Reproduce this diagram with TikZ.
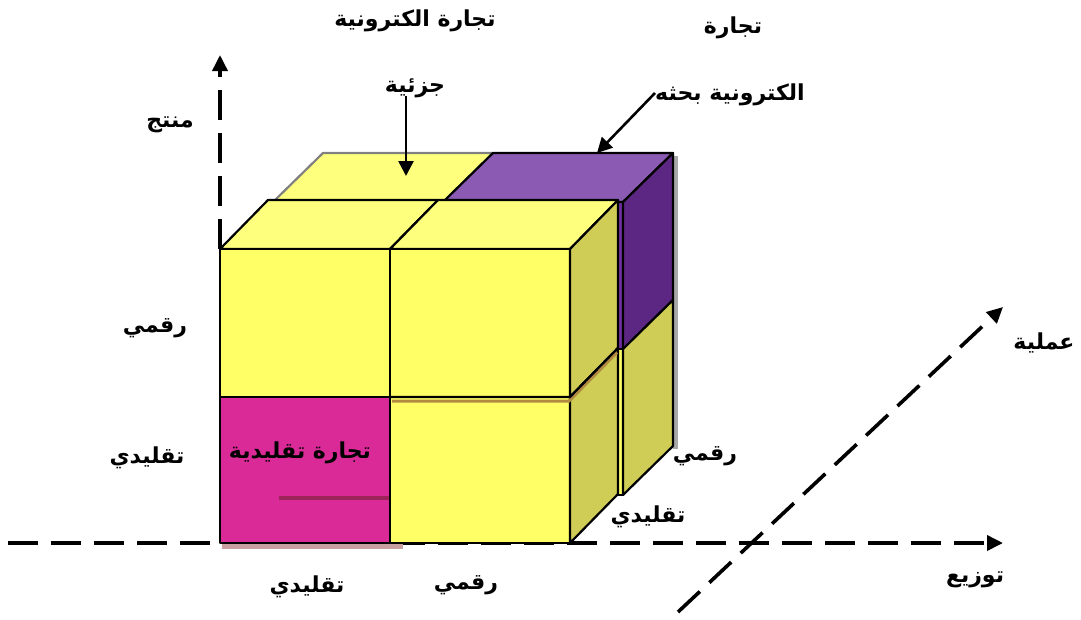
\documentclass[tikz,border=0pt]{standalone}
\usepackage{fontspec}
\newfontfamily\ar[Script=Arabic]{DejaVu Sans}
\TeXXeTstate=1
\usetikzlibrary{arrows.meta}
\definecolor{yfront}{HTML}{FFFF66}
\definecolor{ytop}{HTML}{FFFF7E}
\definecolor{yside}{HTML}{CFCD55}
\definecolor{ptop}{HTML}{8B5AB2}
\definecolor{pside}{HTML}{5C2782}
\definecolor{pfront}{HTML}{7030A0}
\definecolor{mag}{HTML}{DA2A98}
\definecolor{magsh}{HTML}{9C2459}
\definecolor{brsh}{HTML}{B08B40}
\definecolor{pinksh}{HTML}{C8A0A0}
\definecolor{grsh}{HTML}{A8A8A8}
\begin{document}
\begin{tikzpicture}[x=1pt,y=-1pt,
  lab/.style={font=\ar\bfseries\fontsize{22}{26}\selectfont, inner sep=0pt},
  axisline/.style={line width=3.6pt, dash pattern=on 30pt off 13pt, -{Triangle[length=16pt,width=15pt]}},
  ptr/.style={line width=2.6pt, -{Triangle[length=15pt,width=15pt]}},
  face/.style={draw=black, line width=2.2pt, line join=round},
]
\useasboundingbox (0,0) rectangle (1081,619);
% axes
\coordinate (vtop) at (220,55);
\coordinate (vbase) at (220,249);
\coordinate (hl) at (8,543);
\coordinate (hr) at (1003,543);
\coordinate (dl) at (678,612);
\coordinate (dr) at (1003,307);
\draw[axisline] (vbase) -- (vtop);
\draw[axisline] (hl) -- (hr);
\draw[axisline] (dl) -- (dr);
% shadows of back layer
\fill[grsh] (673,156) -- (678,156) -- (678,449) -- (673,449) -- cycle;
\draw[grsh, line width=3pt] (625,353) -- (674,305);
% back layer
\path[face, fill=ytop, draw=gray] (273,202) -- (443,202) -- (493,153) -- (323,153) -- cycle;
\path[face, fill=pfront] (443,202) rectangle (623,349);
\path[face, fill=ptop] (443,202) -- (623,202) -- (673,153) -- (493,153) -- cycle;
\path[face, fill=pside] (623,202) -- (673,153) -- (673,300) -- (623,349) -- cycle;
\path[face, fill=yfront] (443,349) rectangle (623,495);
\path[face, fill=yside] (623,349) -- (673,300) -- (673,446) -- (623,495) -- cycle;
% drop shadow under front layer
\fill[pinksh] (222,543) rectangle (403,549);
% front layer
\path[face, fill=ytop] (220,249) -- (390,249) -- (438,200) -- (268,200) -- cycle;
\path[face, fill=ytop] (390,249) -- (570,249) -- (618,200) -- (438,200) -- cycle;
\path[face, fill=yfront] (220,249) rectangle (390,397);
\path[face, fill=yfront] (390,249) rectangle (570,397);
\path[face, fill=yside] (570,249) -- (618,200) -- (618,348) -- (570,397) -- cycle;
\path[face, fill=mag] (220,397) rectangle (390,543);
\path[face, fill=yfront] (390,397) rectangle (570,543);
\path[face, fill=yside] (570,397) -- (618,348) -- (618,494) -- (570,543) -- cycle;
% inner shadows
\draw[brsh, line width=3pt] (392,401) -- (569,401) -- (617,352.5);
\draw[magsh, line width=4pt] (279,498) -- (389,498);
\draw[line width=2.2pt, line join=round] (390,397) -- (570,397) -- (618,348);
% labels
\node[lab] (t1) at (415,21) {\beginR تجارة الكترونية\endR};
\node[lab] (t2) at (733,28) {\beginR تجارة\endR};
\node[lab] (bh) at (730,95) {\beginR الكترونية بحثه\endR};
\node[lab] (jz) at (415,88) {\beginR جزئية\endR};
\node[lab] (mn) at (170,125) {\beginR منتج\endR};
\node[lab] (rq1) at (155,328) {\beginR رقمي\endR};
\node[lab] (tq1) at (147,458) {\beginR تقليدي\endR};
\node[lab] (tt) at (300,453) {\beginR تجارة تقليدية\endR};
\node[lab] (rq2) at (705,456) {\beginR رقمي\endR};
\node[lab] (tq2) at (648,517) {\beginR تقليدي\endR};
\node[lab] (tq3) at (307,587) {\beginR تقليدي\endR};
\node[lab] (rq3) at (466,585) {\beginR رقمي\endR};
\node[lab] (tw) at (975,580) {\beginR توزيع\endR};
\node[lab] (am) at (1044,343) {\beginR عملية\endR};
% pointer arrows
\coordinate (jzt) at (406,176);
\coordinate (bht) at (597,153);
\draw[ptr] ([yshift=2pt]jz.south -| jzt) -- (jzt);
\draw[ptr] ([yshift=2pt]bh.west) -- (bht);
\end{tikzpicture}
\end{document}
